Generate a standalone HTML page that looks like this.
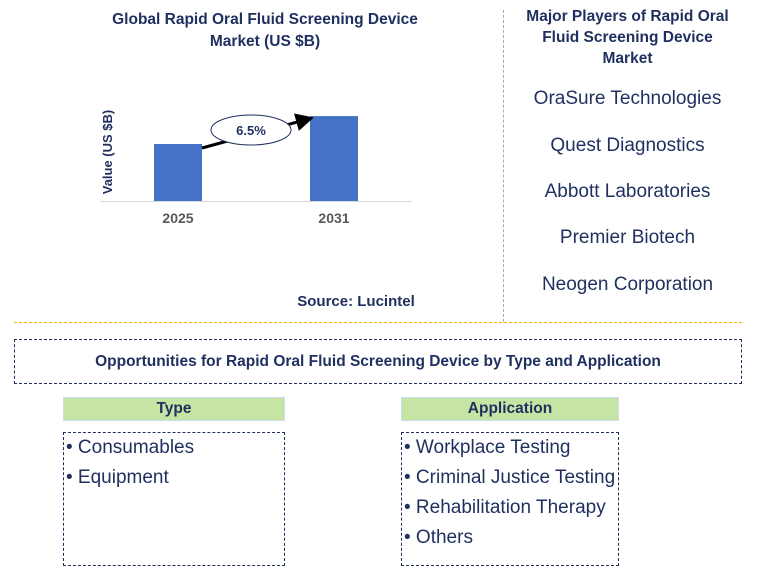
<!DOCTYPE html>
<html><head><meta charset="utf-8"><style>
body{margin:0;width:771px;height:578px;background:#fff;font-family:"Liberation Sans",Arial,sans-serif;position:relative;overflow:hidden}
.a{position:absolute}
.t{color:#1f2f5e;font-weight:bold;text-align:center}
.pl{position:absolute;left:500px;width:255px;text-align:center;font-size:19px;color:#1f2f5e}
.li{font-size:19px;color:#1f2f5e;line-height:30px;padding-left:2px}
</style></head><body>
<div class="a t" style="left:95px;top:9px;width:340px;font-size:15.5px;line-height:22px">Global Rapid Oral Fluid Screening Device Market (US $B)</div>
<svg class="a" style="left:0;top:0" width="500" height="320">
<defs><marker id="ah" markerWidth="6" markerHeight="6" refX="4" refY="3" orient="auto"><path d="M0,0L6,3L0,6z" fill="#000"/></marker></defs>
<g id="g"></g>
<text x="112" y="152" transform="rotate(-90 112 152)" text-anchor="middle" font-size="13" font-weight="bold" fill="#1f2f5e">Value (US $B)</text>
</svg>
<div class="a t" style="left:276px;top:293px;width:160px;font-size:15px;color:#1f2f5e">Source: Lucintel</div>
<div class="a" style="left:503px;top:10px;height:312px;border-left:1px dashed #aaa"></div>
<div class="a t" style="left:520px;top:6px;width:215px;font-size:15.5px;line-height:21px">Major Players of Rapid Oral Fluid Screening Device Market</div>
<div class="pl" style="top:88px">OraSure Technologies</div>
<div class="pl" style="top:135px">Quest Diagnostics</div>
<div class="pl" style="top:181px">Abbott Laboratories</div>
<div class="pl" style="top:227px">Premier Biotech</div>
<div class="pl" style="top:274px">Neogen Corporation</div>
<div class="a" style="left:14px;top:322px;width:728px;border-top:1px dashed #f2b400"></div>
<div class="a t" style="left:14px;top:339px;width:726px;height:43px;border:1px dashed #1f2f5e;font-size:15.5px;line-height:43px">Opportunities for Rapid Oral Fluid Screening Device by Type and Application</div>
<div class="a t" style="left:63px;top:397px;width:220px;height:22px;background:#c6e5a4;border:1px solid #cde;font-size:15.5px;line-height:22px">Type</div>
<div class="a" style="left:63px;top:432px;width:220px;height:132px;border:1px dashed #1f2f5e">
<div class="li">• Consumables</div><div class="li">• Equipment</div></div>
<div class="a t" style="left:401px;top:397px;width:216px;height:22px;background:#c6e5a4;border:1px solid #cde;font-size:15.5px;line-height:22px">Application</div>
<div class="a" style="left:401px;top:432px;width:216px;height:132px;border:1px dashed #1f2f5e;white-space:nowrap">
<div class="li">• Workplace Testing</div><div class="li">• Criminal Justice Testing</div><div class="li">• Rehabilitation Therapy</div><div class="li">• Others</div></div>
<script>
const categories=["2025","2031"];
const values=[1.0,1.49];
const cagrLabel="6.5%";
const NS="http://www.w3.org/2000/svg";
const g=document.getElementById("g");
const base=201, pxPer=57;
const xc=i=>178+i*156;
const y=v=>base-v*pxPer;
function mk(t,a){const e=document.createElementNS(NS,t);for(const k in a)e.setAttribute(k,a[k]);g.appendChild(e);return e;}
const ax=mk("line",{x1:100,y1:base+0.5,x2:412,y2:base+0.5,stroke:"#d9d9d9","stroke-width":1});


categories.forEach((c,i)=>{
 const b=mk("rect",{x:xc(i)-24,y:y(values[i]),width:48,height:base-y(values[i]),fill:"#4472c4"});
 
 
 const t=mk("text",{x:xc(i),y:223,"text-anchor":"middle","font-size":14,"font-weight":"bold",fill:"#595959"});
 t.textContent=c;
 
 
});
const ar=mk("line",{x1:xc(0)+24,y1:y(values[0])+4,x2:xc(1)-26,y2:y(values[1])+3,stroke:"#000","stroke-width":3,"marker-end":"url(#ah)"});


const el=mk("ellipse",{cx:251,cy:130,rx:40,ry:15,fill:"#fff",stroke:"#1f2f5e","stroke-width":1});


const ct=mk("text",{x:251,y:135,"text-anchor":"middle","font-size":13,"font-weight":"bold",fill:"#1f2f5e"});
ct.textContent=cagrLabel;


</script>
</body></html>
